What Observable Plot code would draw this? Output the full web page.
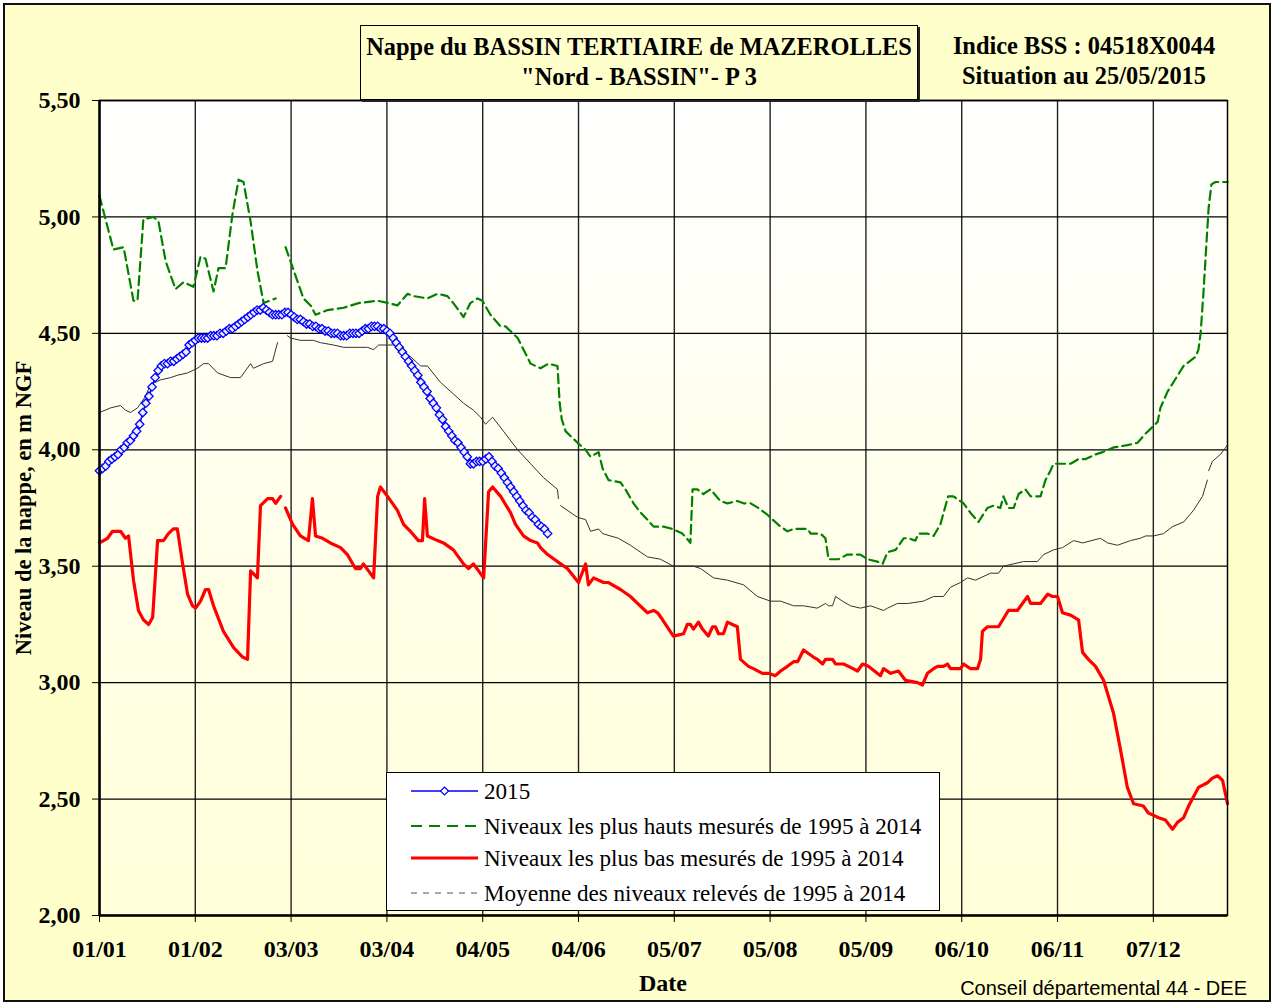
<!DOCTYPE html>
<html><head><meta charset="utf-8">
<script src="https://cdn.jsdelivr.net/npm/d3@7"></script>
<script src="https://cdn.jsdelivr.net/npm/@observablehq/plot@0.6"></script>
<style>
body{margin:0;background:#fff;}
#wrap{position:relative;width:1274px;height:1005px;overflow:hidden;background:#fff;}
#frame{position:absolute;left:3px;top:3px;width:1264px;height:995px;border:2px solid #111;background:#FFFFCC;z-index:0;}
#chart{position:absolute;left:0;top:0;z-index:1;}
.ov{position:absolute;font-family:"Liberation Serif","Times New Roman",serif;color:#000;z-index:2;white-space:nowrap;}
#title{left:360px;top:25px;width:558px;height:75px;border:1px solid #000;box-shadow:2px 2px 0 #222;background:#FFFFCC;text-align:center;font-weight:bold;font-size:24.4px;line-height:30px;padding-top:6px;box-sizing:border-box;}
#bss{left:946px;top:31px;width:276px;text-align:center;font-weight:bold;font-size:24.4px;line-height:30px;}
#ylab{left:-176px;top:493px;width:400px;height:30px;line-height:30px;text-align:center;font-weight:bold;font-size:22.5px;transform:rotate(-90deg);}
#xlab{left:563px;top:968px;width:200px;text-align:center;font-weight:bold;font-size:24px;line-height:30px;}
#foot{left:900px;top:974px;width:347px;text-align:right;font-family:"Liberation Sans",Arial,sans-serif;font-size:20px;line-height:28px;}
#legend{left:386px;top:772px;width:554px;height:139px;border:1px solid #000;background:#fff;box-sizing:border-box;font-size:23.1px;}
.lrow{position:absolute;left:0;height:30px;line-height:30px;}
.lrow svg{position:absolute;left:24px;top:0;}
.lrow span{position:absolute;left:97px;top:0;}
</style></head>
<body>
<div id="wrap">
  <div id="frame"></div>
  <div id="chart"></div>
  <div class="ov" id="title"></div>
  <div class="ov" id="bss"></div>
  <div class="ov" id="ylab"></div>
  <div class="ov" id="xlab"></div>
  <div class="ov" id="foot"></div>
  <div class="ov" id="legend"></div>
</div>
<script>
// ---- texts ----
const titleLines = ["Nappe du BASSIN TERTIAIRE de MAZEROLLES", "\"Nord - BASSIN\"- P 3"];
const infoLines = ["Indice BSS : 04518X0044", "Situation au 25/05/2015"];
const yAxisLabel = "Niveau de la nappe, en m NGF";
const xAxisLabel = "Date";
const footerText = "Conseil départemental 44 - DEE";
const legendLabels = ["2015", "Niveaux les plus hauts mesurés de 1995 à 2014", "Niveaux les plus bas mesurés de 1995 à 2014", "Moyenne des niveaux relevés de 1995 à 2014"];

// ---- axes ----
const xTickDays = [0,31,62,93,124,155,186,217,248,279,310,341];
const xTickLabels = ["01/01","01/02","03/03","03/04","04/05","04/06","05/07","05/08","05/09","06/10","06/11","07/12"];
const yTicks = [2,2.5,3,3.5,4,4.5,5,5.5];

// ---- series: [day of year, level m NGF] ----
const series2015 = [[0,3.91],[1,3.92],[2,3.93],[3,3.95],[4,3.96],[5,3.97],[6,3.98],[7,4.00],[8,4.01],[9,4.03],[10,4.04],[11,4.06],[12,4.08],[13,4.11],[14,4.16],[15,4.20],[16,4.23],[17,4.27],[18,4.31],[19,4.34],[20,4.36],[21,4.37],[22,4.37],[23,4.38],[24,4.38],[25,4.39],[26,4.40],[27,4.41],[28,4.42],[29,4.45],[30,4.46],[31,4.47],[32,4.48],[33,4.48],[34,4.48],[35,4.48],[36,4.49],[37,4.49],[38,4.49],[39,4.50],[40,4.50],[41,4.51],[42,4.52],[43,4.52],[44,4.53],[45,4.54],[46,4.55],[47,4.56],[48,4.57],[49,4.58],[50,4.59],[51,4.60],[52,4.60],[53,4.61],[54,4.60],[55,4.59],[56,4.58],[57,4.58],[58,4.58],[59,4.58],[60,4.59],[61,4.59],[62,4.58],[63,4.57],[64,4.56],[65,4.56],[66,4.55],[67,4.54],[68,4.54],[69,4.53],[70,4.53],[71,4.52],[72,4.52],[73,4.51],[74,4.51],[75,4.50],[76,4.50],[77,4.50],[78,4.49],[79,4.49],[80,4.49],[81,4.50],[82,4.50],[83,4.50],[84,4.50],[85,4.51],[86,4.52],[87,4.52],[88,4.53],[89,4.53],[90,4.53],[91,4.52],[92,4.52],[93,4.51],[94,4.50],[95,4.48],[96,4.46],[97,4.44],[98,4.42],[99,4.40],[100,4.38],[101,4.36],[102,4.34],[103,4.32],[104,4.29],[105,4.27],[106,4.25],[107,4.22],[108,4.20],[109,4.18],[110,4.15],[111,4.13],[112,4.10],[113,4.08],[114,4.06],[115,4.04],[116,4.03],[117,4.01],[118,3.99],[119,3.97],[120,3.94],[121,3.94],[122,3.95],[123,3.95],[124,3.95],[125,3.96],[126,3.97],[127,3.95],[128,3.93],[129,3.92],[130,3.90],[131,3.88],[132,3.86],[133,3.84],[134,3.82],[135,3.80],[136,3.78],[137,3.76],[138,3.74],[139,3.73],[140,3.71],[141,3.70],[142,3.68],[143,3.67],[144,3.66],[145,3.64]];

const seriesHigh = [[0,5.09],[4.5,4.86],[7.8,4.87],[11,4.64],[12.3,4.64],[14.2,4.99],[17.5,5.00],[19.1,4.98],[21.4,4.81],[24.6,4.69],[27.2,4.72],[30.4,4.70],[32.7,4.83],[34.3,4.82],[36.9,4.68],[38.5,4.78],[40.8,4.78],[43,5.01],[45,5.16],[46.6,5.15],[48.9,4.98],[51.1,4.77],[53.1,4.63],[57,4.65],[58.5,null],[60.2,4.87],[66,4.65],[68.3,4.62],[69.9,4.58],[73.8,4.60],[79,4.61],[83.8,4.63],[90,4.64],[93.5,4.63],[96.4,4.62],[99.7,4.67],[101.6,4.66],[106.1,4.65],[109.4,4.67],[112.6,4.66],[114.5,4.63],[117.8,4.57],[120,4.63],[122.3,4.65],[123.9,4.64],[126.5,4.58],[129.8,4.53],[131.4,4.53],[135.3,4.48],[139.5,4.37],[142.7,4.35],[145.3,4.37],[148.2,4.36],[148.9,4.20],[149.6,4.13],[150.8,4.08],[154.7,4.03],[157.3,4.00],[158.9,3.97],[161.5,3.99],[162.8,3.92],[164.7,3.87],[168.6,3.86],[170.2,3.83],[172.8,3.77],[175.1,3.73],[177.3,3.70],[179.3,3.67],[182.5,3.67],[185.4,3.66],[188.6,3.64],[190.6,3.61],[191.2,3.60],[191.9,3.83],[193.5,3.83],[195.4,3.81],[197.7,3.83],[200.9,3.78],[203.2,3.77],[206.4,3.78],[208.4,3.77],[210.7,3.77],[213.2,3.75],[216.2,3.72],[217.8,3.70],[220.4,3.67],[222.6,3.65],[224.6,3.66],[229.1,3.66],[230.1,3.64],[233.3,3.64],[234.9,3.62],[235.9,3.53],[239.1,3.53],[242,3.55],[246.2,3.55],[248.5,3.53],[251.7,3.52],[253.4,3.51],[255,3.56],[257.6,3.57],[260.2,3.62],[261.8,3.62],[264,3.61],[265,3.64],[267.9,3.64],[269.9,3.63],[272.1,3.68],[274.6,3.80],[276.3,3.80],[279.6,3.77],[281.8,3.73],[284.4,3.69],[287.3,3.75],[289.3,3.76],[291.5,3.75],[292.5,3.80],[294.1,3.75],[295.8,3.75],[297.4,3.81],[299.6,3.83],[301.3,3.80],[304.5,3.80],[306.1,3.87],[307.7,3.91],[308.7,3.94],[311,3.94],[314.2,3.94],[316.8,3.96],[319.1,3.96],[322.3,3.98],[324.6,3.99],[328.1,4.01],[332.6,4.02],[335.9,4.03],[338.5,4.07],[340.1,4.09],[342.4,4.12],[343.3,4.18],[345.6,4.25],[347.5,4.29],[350.8,4.36],[354.7,4.40],[355.6,4.43],[356.3,4.50],[357.2,4.67],[358.2,4.89],[358.9,5.04],[359.8,5.14],[361.1,5.15],[365,5.15]];

const seriesLow = [[0,3.60],[2.6,3.62],[4.2,3.65],[6.8,3.65],[8.4,3.62],[9.4,3.63],[11,3.44],[12.6,3.31],[14.2,3.27],[15.9,3.25],[17.2,3.28],[18.8,3.61],[20.7,3.61],[22.3,3.64],[23.9,3.66],[25.2,3.66],[26.9,3.51],[28.5,3.38],[30.1,3.33],[31.1,3.32],[32.7,3.35],[34.3,3.40],[35.3,3.40],[36.9,3.33],[40.1,3.22],[43.4,3.15],[46.3,3.11],[47.9,3.10],[48.9,3.48],[51.1,3.45],[52.1,3.76],[54.4,3.79],[56,3.79],[57,3.77],[58.6,3.80],[59.4,null],[60.2,3.75],[62.5,3.68],[65,3.63],[67.6,3.61],[68.9,3.79],[69.9,3.63],[72.2,3.62],[74.7,3.60],[78,3.58],[80.2,3.55],[82.8,3.49],[84.5,3.49],[85.4,3.51],[88.7,3.45],[90,3.80],[90.9,3.84],[93.2,3.80],[96.4,3.74],[98.4,3.68],[100.6,3.65],[103.2,3.61],[104.5,3.61],[105.2,3.79],[106.1,3.63],[109.4,3.61],[111.3,3.60],[114.5,3.57],[117.8,3.51],[119.4,3.49],[121,3.51],[124.3,3.45],[125.9,3.82],[127.2,3.84],[129.8,3.80],[133,3.73],[134.6,3.68],[137.2,3.63],[139.5,3.61],[141.7,3.60],[142.7,3.58],[145,3.55],[149.2,3.51],[151.4,3.49],[155,3.43],[157.3,3.51],[158.2,3.42],[159.9,3.45],[163.1,3.43],[164.7,3.43],[168.6,3.40],[171.8,3.37],[174.1,3.34],[177.3,3.30],[179.3,3.31],[180.6,3.30],[182.2,3.27],[185.7,3.20],[189,3.21],[190.2,3.25],[191.2,3.25],[192.2,3.23],[193.8,3.26],[195.1,3.23],[197,3.20],[198.4,3.24],[199.3,3.24],[200.3,3.21],[201.9,3.21],[203.2,3.26],[204.8,3.25],[206.4,3.24],[207.4,3.10],[210,3.07],[211.6,3.06],[214.5,3.04],[216.5,3.04],[218.7,3.03],[220.4,3.05],[222.6,3.07],[224.6,3.09],[225.9,3.09],[227.8,3.14],[231,3.11],[232.3,3.10],[234,3.08],[234.9,3.10],[237.2,3.10],[238.2,3.08],[240.7,3.08],[242.4,3.07],[245.3,3.05],[246.9,3.08],[248.8,3.07],[252.7,3.03],[253.7,3.06],[256,3.04],[258.5,3.05],[260.8,3.01],[264.7,3.00],[266.3,2.99],[267.9,3.04],[269.9,3.06],[271.2,3.07],[273.1,3.07],[274.4,3.08],[275.4,3.06],[278.6,3.06],[279.6,3.08],[281.8,3.06],[284.1,3.06],[285.1,3.10],[285.7,3.22],[287.3,3.24],[290.9,3.24],[294.1,3.31],[297,3.31],[300.3,3.37],[301.3,3.34],[304.5,3.34],[306.8,3.38],[308.4,3.37],[310,3.37],[311.6,3.30],[314.2,3.29],[316.8,3.27],[318.1,3.13],[320,3.10],[322.3,3.07],[324.9,3.01],[328.1,2.87],[330.4,2.71],[332.6,2.55],[334.6,2.48],[337.8,2.47],[339.4,2.44],[341.1,2.43],[342.7,2.42],[344.9,2.41],[347.2,2.37],[348.8,2.40],[350.8,2.42],[352.4,2.47],[354,2.51],[355.6,2.55],[358.5,2.57],[360.1,2.59],[361.8,2.60],[363.4,2.58],[365,2.48]];

const seriesMean = [[0,4.16],[3.6,4.18],[6.8,4.19],[8.4,4.17],[10,4.16],[12.3,4.18],[14.9,4.23],[16.5,4.28],[19.7,4.30],[23,4.31],[25.2,4.32],[28.5,4.33],[31.7,4.35],[33.7,4.37],[35.3,4.37],[38.2,4.33],[42.4,4.31],[45.6,4.31],[48.9,4.37],[49.8,4.35],[53.1,4.37],[56,4.38],[57.6,4.46],[59,null],[60.8,4.49],[61.8,4.48],[65,4.47],[69.2,4.47],[71.5,4.46],[75.7,4.45],[79,4.44],[83.5,4.44],[86.7,4.44],[88.7,4.43],[90.3,4.45],[93.2,4.45],[95.1,4.45],[100.6,4.40],[103.9,4.36],[106.1,4.36],[110.3,4.29],[114.5,4.24],[117.8,4.20],[121,4.17],[123.3,4.14],[124.9,4.11],[127.2,4.14],[130.7,4.08],[135.3,4.00],[139.5,3.94],[143.7,3.88],[148.2,3.83],[148.5,3.79],[148.8,null],[149.2,3.76],[154.7,3.71],[157.3,3.70],[158.9,3.65],[161.5,3.66],[162.8,3.64],[167.9,3.62],[171.8,3.59],[177.3,3.54],[181.5,3.53],[185.7,3.50],[192.2,3.50],[194.5,3.49],[198.7,3.45],[203.2,3.44],[208.4,3.42],[212.9,3.37],[217.1,3.35],[220.4,3.35],[224.6,3.33],[227.8,3.33],[232.3,3.32],[234.9,3.34],[235.9,3.33],[237.2,3.33],[238.2,3.37],[240.4,3.35],[243,3.33],[246.2,3.32],[249.5,3.33],[253.7,3.31],[255,3.32],[258.2,3.34],[261.5,3.34],[266.6,3.35],[269.9,3.37],[273.1,3.37],[275.4,3.41],[278.6,3.43],[280.9,3.45],[283.5,3.44],[288.3,3.47],[290.9,3.47],[292.5,3.50],[299,3.52],[303.5,3.52],[305.5,3.55],[308.7,3.57],[311.6,3.58],[315.2,3.61],[318.1,3.60],[323.9,3.62],[326.2,3.60],[329.4,3.59],[333.6,3.61],[336.8,3.62],[338.5,3.63],[341.1,3.63],[344.3,3.64],[347.2,3.67],[350.8,3.69],[354,3.74],[356.9,3.80],[358.5,3.87],[358.7,null],[358.9,3.91],[360.1,3.95],[362.7,3.98],[365,4.02]];

// ---- build ----
const rows = arr => arr.map(([day, level]) => ({day, level}));
const labelOf = new Map(xTickDays.map((d, i) => [d, xTickLabels[i]]));

const chart = Plot.plot({
  width: 1274, height: 1005,
  marginLeft: 99, marginRight: 47, marginTop: 100, marginBottom: 90,
  style: {background: "transparent", color: "#000", fontFamily: '"Liberation Serif","Times New Roman",serif', fontSize: "24px", fontWeight: "bold", overflow: "visible"},
  x: {domain: [0, 365], ticks: xTickDays, tickFormat: d => labelOf.get(d), tickSize: 7, tickPadding: 17, label: null},
  y: {domain: [2, 5.5], ticks: yTicks, tickFormat: d => d.toFixed(2).replace(".", ","), tickSize: 7, tickPadding: 12, label: null},
  marks: [
    Plot.frame({fill: "url(#plotbg)", stroke: "none"}),
    Plot.ruleX(xTickDays.slice(1), {stroke: "#222", strokeWidth: 1.4}),
    Plot.ruleY(yTicks.slice(1), {stroke: "#000", strokeWidth: 1.3}),
    Plot.line(rows(seriesMean), {x: "day", y: "level", stroke: "#333", strokeWidth: 1}),
    Plot.line(rows(seriesHigh), {x: "day", y: "level", stroke: "#008000", strokeWidth: 2.2, strokeDasharray: "9,5"}),
    Plot.line(rows(seriesLow), {x: "day", y: "level", stroke: "#ff0000", strokeWidth: 3.2}),
    Plot.line(rows(series2015), {x: "day", y: "level", stroke: "#0000ff", strokeWidth: 1.5}),
    Plot.dot(rows(series2015), {x: "day", y: "level", symbol: "diamond2", r: 3.8, stroke: "#0000ff", fill: "#eef", strokeWidth: 1.3}),
    Plot.frame({stroke: "#000", strokeWidth: 1.5}),
    Plot.ruleX([0], {stroke: "#000", strokeWidth: 2.5}),
    Plot.ruleY([2], {stroke: "#000", strokeWidth: 2.5})
  ]
});
d3.select(chart).insert("defs", ":first-child").html(
  '<linearGradient id="plotbg" x1="0" y1="0" x2="0" y2="1"><stop offset="0" stop-color="#ffffff"/><stop offset="1" stop-color="#FFFFD8"/></linearGradient>');
document.getElementById("chart").appendChild(chart);

// ---- overlays ----
document.getElementById("title").innerHTML = titleLines.map(t => `<div>${t.replace(/"/g, "&quot;")}</div>`).join("");
document.getElementById("bss").innerHTML = infoLines.map(t => `<div>${t}</div>`).join("");
document.getElementById("ylab").textContent = yAxisLabel;
document.getElementById("xlab").textContent = xAxisLabel;
document.getElementById("foot").textContent = footerText;

const samples = [
  '<line x1="0" y1="15" x2="67" y2="15" stroke="#0000ff" stroke-width="1.5"/><path d="M33.5,11 L37.5,15 L33.5,19 L29.5,15 Z" fill="#fff" stroke="#0000ff" stroke-width="1.2"/>',
  '<line x1="0" y1="15" x2="67" y2="15" stroke="#008000" stroke-width="2" stroke-dasharray="11,7"/>',
  '<line x1="0" y1="15" x2="67" y2="15" stroke="#ff0000" stroke-width="3"/>',
  '<line x1="0" y1="15" x2="67" y2="15" stroke="#555" stroke-width="1" stroke-dasharray="6,6"/>'
];
const rowTops = [3, 38, 70, 105];
document.getElementById("legend").innerHTML = legendLabels.map((t, i) =>
  `<div class="lrow" style="top:${rowTops[i]}px"><svg width="70" height="30">${samples[i]}</svg><span>${t}</span></div>`).join("");
</script>
</body></html>
